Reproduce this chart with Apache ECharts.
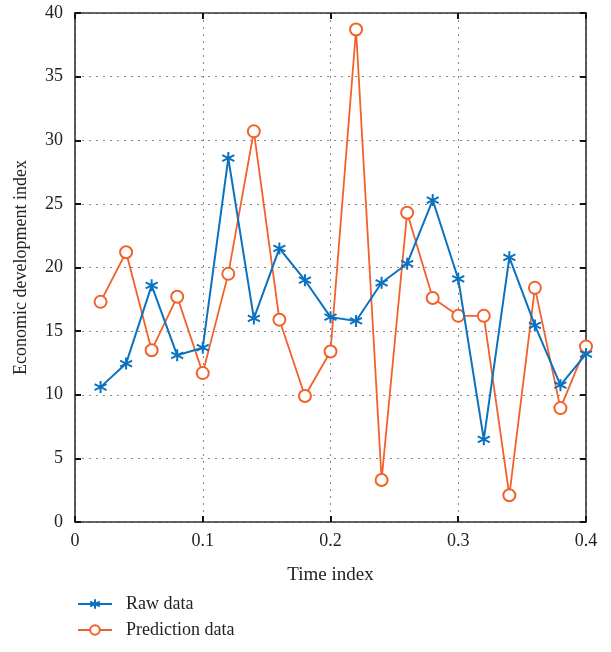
<!DOCTYPE html>
<html>
<head>
<meta charset="utf-8">
<script src="https://cdn.jsdelivr.net/npm/echarts@6/dist/echarts.min.js"></script>
<style>
    html, body { margin: 0; padding: 0; background: #fff; }
    #chart { width: 611px; height: 652px; }
</style>
</head>
<body>
<div id="chart"></div>
<script>
var timeIndex = [0.02, 0.04, 0.06, 0.08, 0.10, 0.12, 0.14, 0.16, 0.18, 0.20,
                 0.22, 0.24, 0.26, 0.28, 0.30, 0.32, 0.34, 0.36, 0.38, 0.40];
var rawData = [10.6, 12.45, 18.6, 13.1, 13.7, 28.6, 16.0, 21.5, 19.0, 16.1,
               15.8, 18.8, 20.3, 25.3, 19.1, 6.5, 20.8, 15.45, 10.75, 13.2];
var predictionData = [17.3, 21.2, 13.5, 17.7, 11.7, 19.5, 30.7, 15.9, 9.9, 13.4,
                      38.7, 3.3, 24.3, 17.6, 16.2, 16.2, 2.1, 18.4, 8.95, 13.8];
var xTicks = [0, 0.1, 0.2, 0.3, 0.4];

var chart = echarts.init(document.getElementById('chart'));

var blue = '#0a72be';
var orange = '#f2612a';
var font = 'Liberation Serif';
var star = 'path://M0,-10L0,10M-8.66,-5L8.66,5M-8.66,5L8.66,-5';

function pairs(values) {
    return values.map(function (v, i) {
        return [timeIndex[i], v];
    });
}

var axisLine = { show: true, onZero: false, lineStyle: { color: '#333', width: 1.6 } };
var tick = { show: true, inside: true, length: 6, lineStyle: { color: '#111', width: 2 } };
var gridLine = { show: true, lineStyle: { color: '#888', type: [2, 5], width: 1 } };

var option = {
    animation: false,
    grid: { left: 75, right: 25, top: 13, bottom: 130 },
    legend: {
        orient: 'vertical',
        left: 72,
        top: 590,
        itemWidth: 34,
        itemHeight: 12,
        itemGap: 8,
        textStyle: { fontFamily: font, fontSize: 18, color: '#222', padding: [0, 0, 0, 9] },
        data: ['Raw data', 'Prediction data']
    },
    xAxis: [{
        type: 'value',
        min: 0,
        max: 0.4,
        interval: 0.1,
        name: 'Time index',
        nameLocation: 'middle',
        nameGap: 44,
        nameTextStyle: { fontFamily: font, fontSize: 19, color: '#222' },
        axisLine: axisLine,
        axisTick: tick,
        axisLabel: {
            fontFamily: font, fontSize: 18, color: '#222', margin: 10,
            formatter: function (v) {
                var t = xTicks.filter(function (k) { return Math.abs(k - v) < 1e-9; });
                return t.length ? String(t[0]) : '';
            }
        },
        splitLine: gridLine
    }, {
        type: 'value',
        position: 'top',
        min: 0,
        max: 0.4,
        interval: 0.1,
        axisLine: axisLine,
        axisTick: tick,
        axisLabel: { show: false },
        splitLine: { show: false }
    }],
    yAxis: [{
        type: 'value',
        min: 0,
        max: 40,
        interval: 5,
        name: 'Economic development index',
        nameLocation: 'middle',
        nameGap: 45,
        nameTextStyle: { fontFamily: font, fontSize: 18, color: '#222' },
        axisLine: axisLine,
        axisTick: tick,
        axisLabel: { fontFamily: font, fontSize: 18, color: '#222', margin: 12 },
        splitLine: gridLine
    }, {
        type: 'value',
        position: 'right',
        min: 0,
        max: 40,
        interval: 5,
        axisLine: axisLine,
        axisTick: tick,
        axisLabel: { show: false },
        splitLine: { show: false }
    }],
    series: [{
        name: 'Raw data',
        type: 'line',
        data: pairs(rawData),
        symbol: star,
        symbolSize: 12,
        lineStyle: { color: blue, width: 2 },
        itemStyle: { color: blue, borderColor: blue, borderWidth: 2 },
        z: 3
    }, {
        name: 'Prediction data',
        type: 'line',
        data: pairs(predictionData),
        symbol: 'emptyCircle',
        symbolSize: 12,
        lineStyle: { color: orange, width: 1.8 },
        itemStyle: { color: orange, borderColor: orange, borderWidth: 1.5 },
        z: 2
    }]
};

chart.setOption(option);
</script>
</body>
</html>
